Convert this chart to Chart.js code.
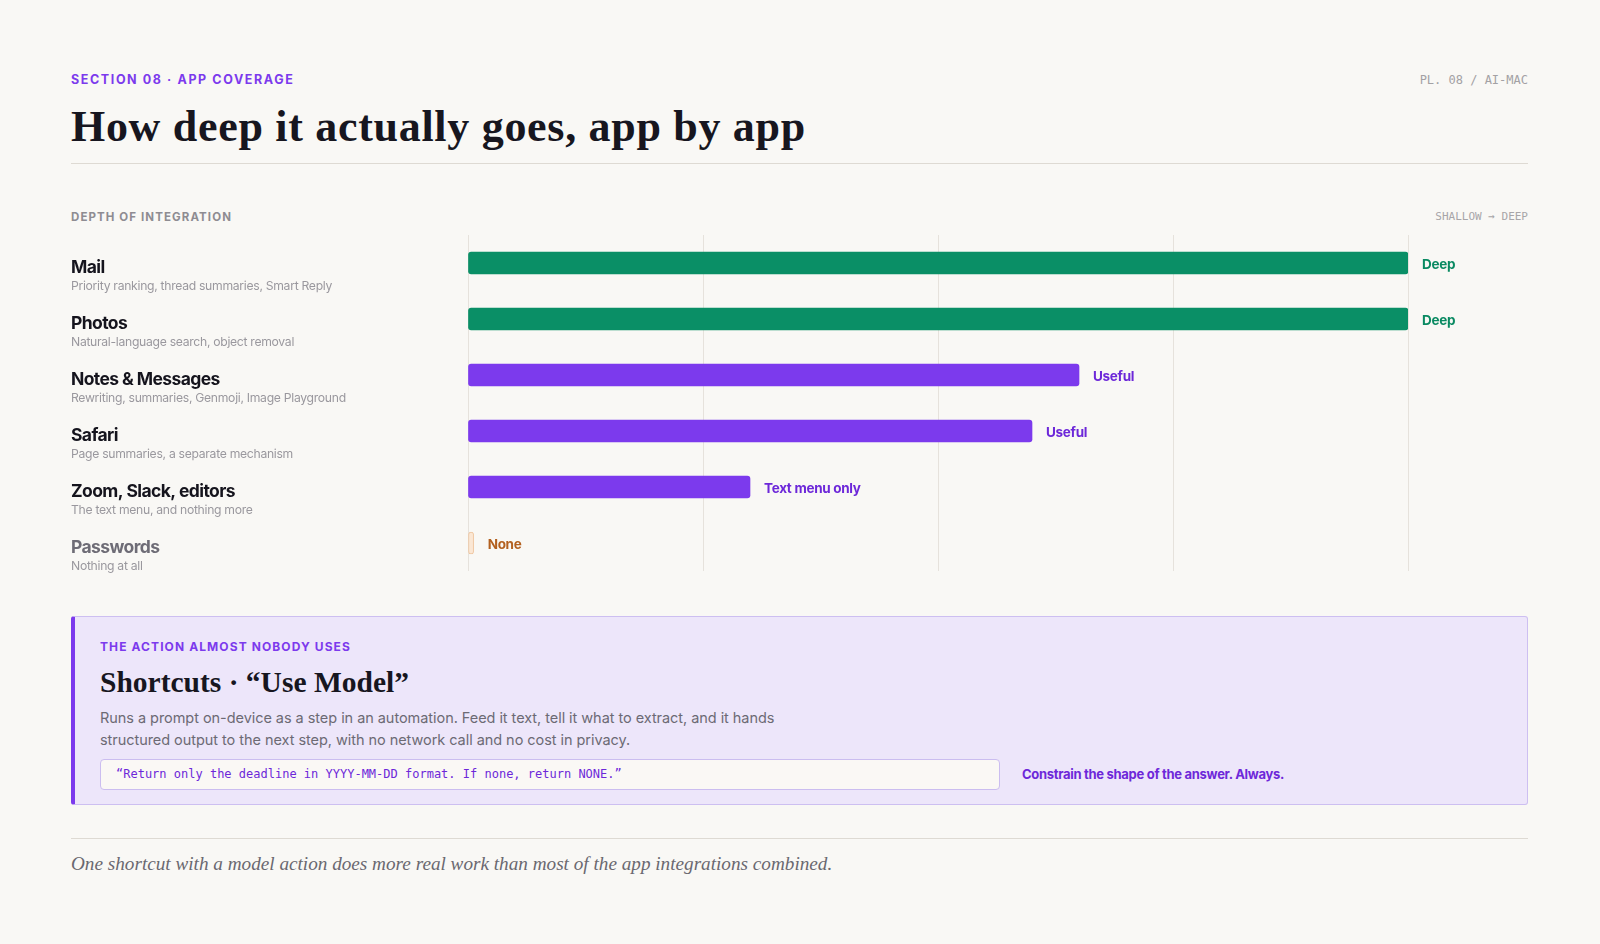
<!DOCTYPE html>
<html>
<head>
<meta charset="utf-8">
<title>App coverage</title>
<script src="https://cdn.jsdelivr.net/npm/chart.js@4.4.1/dist/chart.umd.min.js"></script>
<style>
  html, body { margin: 0; padding: 0; }
  body { width: 1600px; height: 944px; background: #f9f8f5; position: relative; overflow: hidden; font-family: Inter, "Noto Sans", sans-serif; }
  .abs { position: absolute; white-space: nowrap; }
  .kicker { font-weight: 700; font-size: 12.5px; letter-spacing: 1.6px; color: #7c3aed; line-height: 16px; }
  .mono { font-family: "DejaVu Sans Mono", "Liberation Mono", monospace; }
  .serif { font-family: "Liberation Serif", "DejaVu Serif", serif; }
  .rule { position: absolute; left: 71px; width: 1457px; height: 1px; background: #dedad3; }
  #chartBox { position: absolute; left: 71px; top: 235px; width: 1457px; height: 344px; }
  .callout { position: absolute; left: 71px; top: 616px; width: 1452px; height: 187px; background: #ede6fa; border: 1px solid #cdbff1; border-left: 4px solid #7c3aed; border-radius: 3px; }
</style>
</head>
<body>

<div class="abs kicker" style="left:71px; top:72px;">SECTION 08 · APP COVERAGE</div>
<div class="abs mono" style="right:72px; top:72px; font-size:12px; line-height:16px; color:#a3a1a4;">PL. 08 / AI-MAC</div>
<div class="abs serif" style="left:71px; top:101px; font-size:44px; line-height:52px; font-weight:700; letter-spacing:0.7px; color:#17161f;">How deep it actually goes, app by app</div>
<div class="rule" style="top:163px;"></div>

<div class="abs" style="left:71px; top:209px; font-size:11.5px; line-height:16px; font-weight:700; letter-spacing:1.1px; color:#8e8c92;">DEPTH OF INTEGRATION</div>
<div class="abs mono" style="right:72px; top:209px; font-size:11px; line-height:16px; color:#a7a5a8;">SHALLOW → DEEP</div>

<div id="chartBox"><canvas id="depthChart"></canvas></div>

<div class="callout"></div>
<div class="abs kicker" style="left:100px; top:639px; font-size:12px; letter-spacing:1.1px;">THE ACTION ALMOST NOBODY USES</div>
<div class="abs serif" style="left:100px; top:663px; font-size:29.5px; line-height:38px; font-weight:700; color:#17161f;">Shortcuts · “Use Model”</div>
<div class="abs" style="left:100px; top:707px; width:720px; white-space:normal; font-size:14.5px; line-height:22px; color:#6c6a74; letter-spacing:-0.05px;">Runs a prompt on-device as a step in an automation. Feed it text, tell it what to extract, and it hands structured output to the next step, with no network call and no cost in privacy.</div>
<div class="abs" style="left:100px; top:759px; width:898px; height:29px; background:#faf8f5; border:1px solid #cbbdf0; border-radius:4px;"></div>
<div class="abs mono" style="left:116px; top:766px; font-size:12px; line-height:16px; color:#6d28d9;">“Return only the deadline in YYYY-MM-DD format. If none, return NONE.”</div>
<div class="abs" style="left:1022px; top:765px; font-size:13px; line-height:18px; font-weight:700; letter-spacing:-0.3px; color:#6d28d9;">Constrain the shape of the answer. Always.</div>

<div class="rule" style="top:838px;"></div>
<div class="abs serif" style="left:71px; top:851px; font-size:19.2px; line-height:26px; font-style:italic; color:#6a6870;">One shortcut with a model action does more real work than most of the app integrations combined.</div>

<script>
'use strict';
// rows, top to bottom
var appNames = ['Mail', 'Photos', 'Notes & Messages', 'Safari', 'Zoom, Slack, editors', 'Passwords'];
var appNotes = [
  'Priority ranking, thread summaries, Smart Reply',
  'Natural-language search, object removal',
  'Rewriting, summaries, Genmoji, Image Playground',
  'Page summaries, a separate mechanism',
  'The text menu, and nothing more',
  'Nothing at all'
];
// depth of integration, 0 = shallow, 100 = deep
var depthValues = [100, 100, 65, 60, 30, 0.6];
var depthLabels = ['Deep', 'Deep', 'Useful', 'Useful', 'Text menu only', 'None'];
var depthTicks = [0, 25, 50, 75, 100];

function tierColor(label) {
  if (label === 'Deep') return '#0a8f66';
  if (label === 'None') return '#fbe7d4';
  return '#7c3aed';
}
function tierTextColor(label) {
  if (label === 'Deep') return '#0a8a62';
  if (label === 'None') return '#b3601f';
  return '#6d28d9';
}

// app name + note on the left, drawn at each category's pixel
var rowLabels = {
  id: 'rowLabels',
  afterDraw: function(chart) {
    var ctx = chart.ctx;
    var yScale = chart.scales.y;
    ctx.save();
    ctx.textAlign = 'left';
    ctx.textBaseline = 'alphabetic';
    for (var i = 0; i < appNames.length; i++) {
      var y = yScale.getPixelForValue(i);
      ctx.font = '700 17.5px Inter';
      ctx.letterSpacing = '-0.6px';
      ctx.fillStyle = depthLabels[i] === 'None' ? '#6e6c76' : '#15141d';
      ctx.fillText(appNames[i], 0, y + 9.5);
      ctx.font = '400 12.2px Inter';
      ctx.letterSpacing = '-0.3px';
      ctx.fillStyle = '#9a989e';
      ctx.fillText(appNotes[i], 0, y + 27);
    }
    ctx.restore();
  }
};

// tier label just past the end of each bar
var barTags = {
  id: 'barTags',
  afterDatasetsDraw: function(chart) {
    var ctx = chart.ctx;
    var bars = chart.getDatasetMeta(0).data;
    ctx.save();
    ctx.font = '700 13.5px Inter';
    ctx.letterSpacing = '-0.3px';
    ctx.textAlign = 'left';
    ctx.textBaseline = 'alphabetic';
    for (var i = 0; i < bars.length; i++) {
      ctx.fillStyle = tierTextColor(depthLabels[i]);
      ctx.fillText(depthLabels[i], bars[i].x + 14, bars[i].y + 6);
    }
    ctx.restore();
  }
};

var ctx = document.getElementById('depthChart').getContext('2d');
var depthChart = new Chart(ctx, {
  type: 'bar',
  data: {
    labels: appNames,
    datasets: [{
      data: depthValues,
      backgroundColor: depthLabels.map(tierColor),
      borderColor: depthLabels.map(function(l) { return l === 'None' ? '#efc7a2' : tierColor(l); }),
      borderWidth: depthLabels.map(function(l) { return l === 'None' ? 1 : 0; }),
      borderSkipped: false,
      borderRadius: 3,
      barThickness: 22
    }]
  },
  options: {
    indexAxis: 'y',
    responsive: true,
    maintainAspectRatio: false,
    animation: false,
    layout: { padding: { top: 0, right: 120, bottom: 8, left: 0 } },
    plugins: { legend: { display: false }, tooltip: { enabled: false } },
    scales: {
      x: {
        min: depthTicks[0],
        max: depthTicks[depthTicks.length - 1],
        afterBuildTicks: function(axis) {
          axis.ticks = depthTicks.map(function(v) { return { value: v }; });
        },
        ticks: { display: false },
        border: { display: false },
        grid: { color: '#e6e2dc', lineWidth: 1, drawTicks: false },
        afterFit: function(axis) { axis.height = 0; }
      },
      y: {
        ticks: { display: false },
        border: { display: false },
        grid: { display: false, drawTicks: false },
        afterFit: function(axis) { axis.width = 397; }
      }
    }
  },
  plugins: [rowLabels, barTags]
});
</script>
</body>
</html>
